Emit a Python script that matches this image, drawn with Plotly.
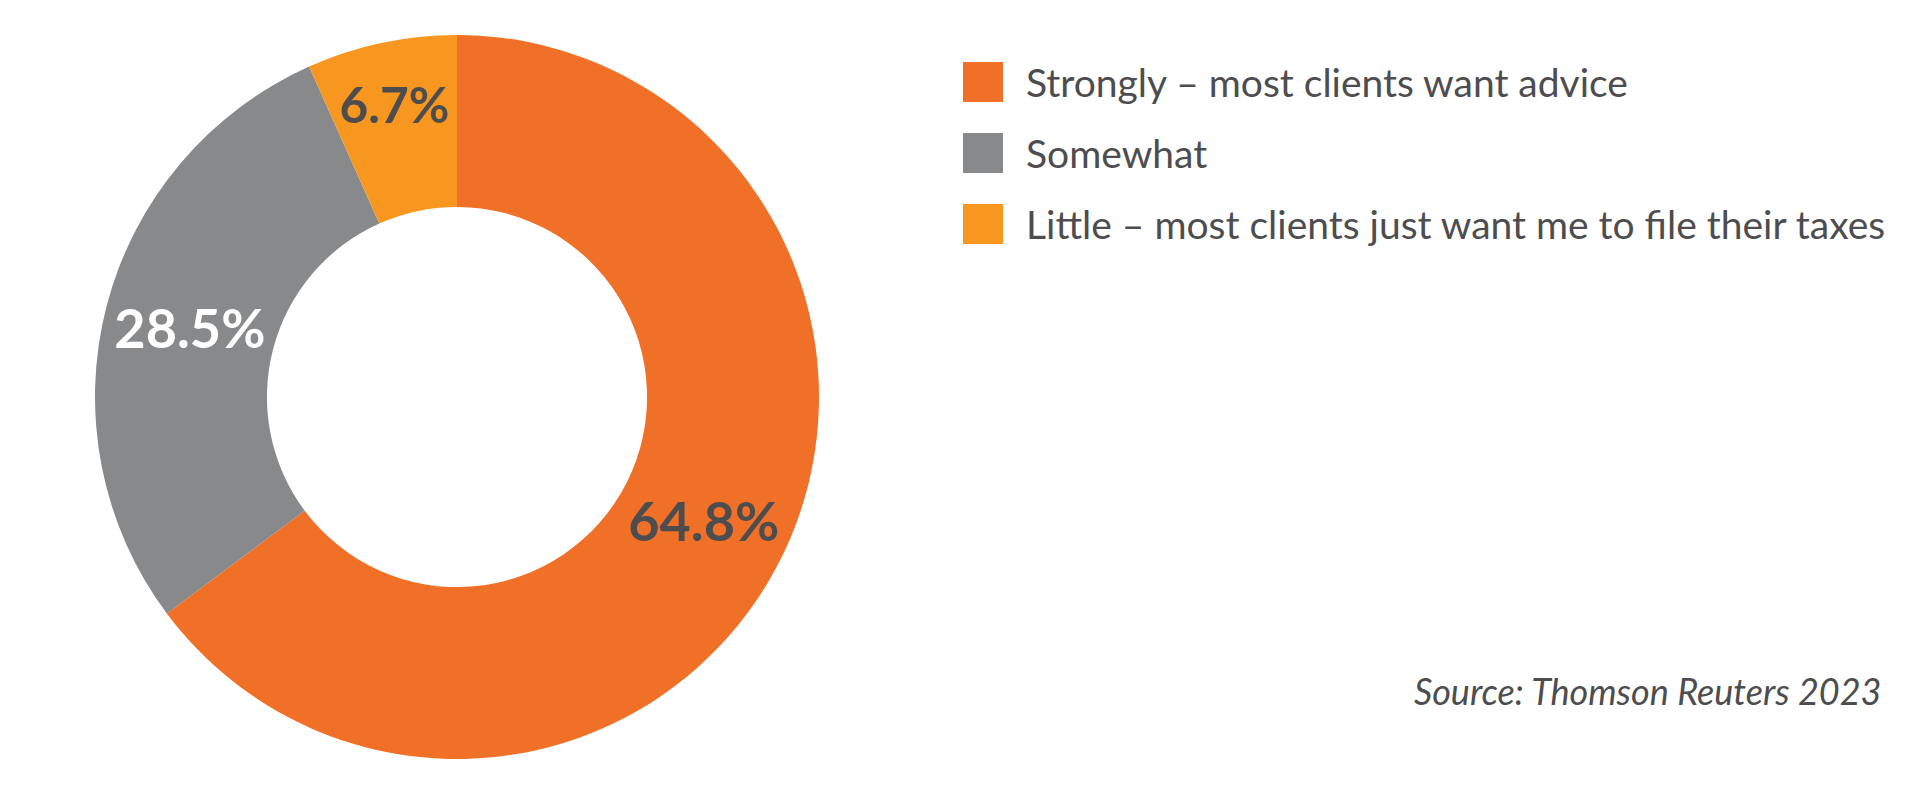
import plotly.graph_objs as go

# Data
categories = [
    "Strongly – most clients want advice",
    "Somewhat",
    "Little – most clients just want me to file their taxes",
]
shares = [64.8, 28.5, 6.7]
colors = ["#F07028", "#87898B", "#F7971F"]
label_colors = ["#4D4D4F", "#FFFFFF", "#4D4D4F"]
source_note = "Source: Thomson Reuters 2023"

# page has an 8px body margin, so size the figure to fit inside the window
OFF = 8
FW, FH = 1920 - OFF, 791 - OFF
TEXT_DARK = "#4D4D4F"


def px(x):
    return (x - OFF) / FW


def py(y):
    return 1 - (y - OFF) / FH


def main():
    fig = go.Figure()

    # donut
    fig.add_trace(go.Pie(
        labels=categories,
        values=shares,
        hole=0.525,
        sort=False,
        direction="clockwise",
        rotation=0,
        marker=dict(colors=colors, line=dict(width=0)),
        texttemplate="%{value:.1f}%",
        textposition="inside",
        insidetextorientation="horizontal",
        insidetextfont=dict(family="Lato", size=54, color=label_colors, weight="bold"),
        domain=dict(x=[px(95), px(819)], y=[py(759), py(35)]),
        showlegend=False,
        hoverinfo="label+percent",
    ))

    # legend drawn by hand so the swatches can be large
    row_y = [82, 153, 224]
    sq = 40
    for cat, col, yc in zip(categories, colors, row_y):
        fig.add_shape(type="rect", xref="paper", yref="paper",
                      x0=px(963), x1=px(963 + sq),
                      y0=py(yc + sq / 2), y1=py(yc - sq / 2),
                      fillcolor=col, line=dict(width=0))
        fig.add_annotation(x=px(1024), y=py(yc), xref="paper", yref="paper",
                           text=cat, showarrow=False, xanchor="left", yanchor="middle",
                           font=dict(family="Lato", size=39, color=TEXT_DARK))

    # source
    fig.add_annotation(x=px(1884), y=py(691), xref="paper", yref="paper",
                       text=source_note, showarrow=False, xanchor="right", yanchor="middle",
                       font=dict(family="Lato", size=36, color=TEXT_DARK, style="italic"))

    fig.update_layout(
        width=FW, height=FH,
        margin=dict(l=0, r=0, t=0, b=0),
        paper_bgcolor="white",
        plot_bgcolor="white",
    )

    fig.write_html("out.html")


if __name__ == "__main__":
    main()
